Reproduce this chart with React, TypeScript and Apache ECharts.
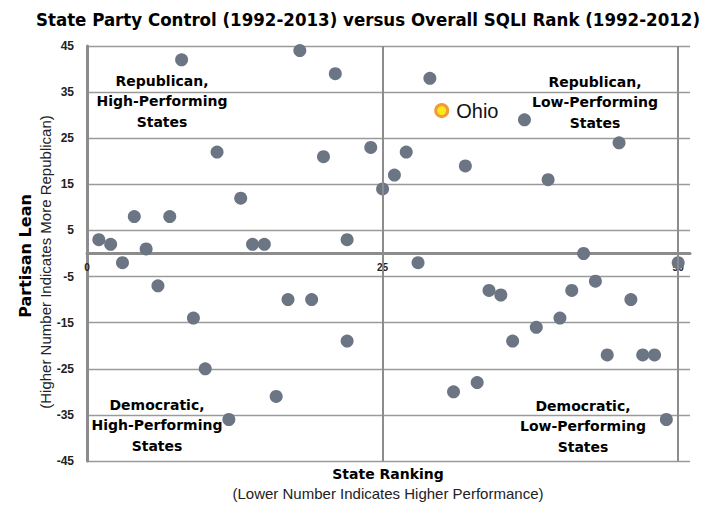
import React, { useEffect, useRef } from "react";
import * as echarts from "echarts";

const ranks = [1, 2, 3, 4, 5, 6, 7, 8, 9, 10, 11, 12, 13, 14, 15, 16, 17, 18, 19, 20, 21, 22, 22, 24, 25, 26, 27, 28, 29, 31, 32, 33, 34, 35, 36, 37, 38, 39, 40, 41, 42, 43, 44, 45, 46, 47, 48, 49, 50];
const leans = [3, 2, -2, 8, 1, -7, 8, 42, -14, -25, 22, -36, 12, 2, 2, -31, -10, 44, -10, 21, 39, 3, -19, 23, 14, 17, 22, -2, 38, -30, 19, -28, -8, -9, -19, 29, -16, 16, -14, -8, 0, -6, -22, 24, -10, -22, -22, -36, -2];
const ohioRank = 30;
const ohioLean = 31;
const yTicks = [-45, 45, 10];
const xTicks = [0, 51, 25];
const dividers = [25, 50];

const quadrants = [
  { text: "Republican,\nHigh-Performing\nStates", x: 162, y: 101 },
  { text: "Republican,\nLow-Performing\nStates", x: 595, y: 102 },
  { text: "Democratic,\nHigh-Performing\nStates", x: 157, y: 425 },
  { text: "Democratic,\nLow-Performing\nStates", x: 583, y: 426 },
];

const GRID_TOP = 46;
const GRID_BOTTOM = 52;
const HEIGHT = 513;

export default function App() {
  const ref = useRef<HTMLDivElement>(null);
  useEffect(() => {
    if (!ref.current) return;
    const chart = echarts.init(ref.current, null, { renderer: "svg" });
    const pts = ranks.map((r, i) => [r, leans[i]]);
    const axisGray = "#8c8c8c";
    const plotH = HEIGHT - GRID_TOP - GRID_BOTTOM;
    const zeroFromBottom = (plotH * (0 - yTicks[0])) / (yTicks[1] - yTicks[0]);
    chart.setOption({
      animation: false,
      backgroundColor: "#ffffff",
      grid: { left: 87, top: GRID_TOP, right: 16, bottom: GRID_BOTTOM, containLabel: false },
      xAxis: {
        type: "value",
        min: xTicks[0],
        max: xTicks[1],
        interval: xTicks[2],
        position: "bottom",
        offset: -zeroFromBottom,
        axisLine: { show: true, onZero: false, lineStyle: { color: axisGray, width: 3 } },
        axisTick: { show: false },
        splitLine: { show: false },
        axisLabel: {
          margin: 9,
          fontSize: 10,
          fontWeight: "bold",
          fontFamily: "Liberation Sans",
          color: "#222",
          formatter: (v: number) => (v % 25 === 0 ? String(v) : ""),
        },
      },
      yAxis: {
        type: "value",
        min: yTicks[0],
        max: yTicks[1],
        interval: yTicks[2],
        axisLine: { show: true, onZero: false, lineStyle: { color: axisGray, width: 3 } },
        axisTick: { show: false },
        splitLine: { show: true, lineStyle: { color: "#9a9a9a", width: 1.3 } },
        axisLabel: {
          margin: 13,
          fontSize: 12,
          fontWeight: "bold",
          fontFamily: "Liberation Sans",
          color: "#222",
        },
      },
      series: [
        {
          type: "scatter",
          data: pts,
          symbolSize: 13,
          itemStyle: { color: "#6b7584", opacity: 1 },
          markLine: {
            silent: true,
            symbol: ["none", "none"],
            label: { show: false },
            lineStyle: { color: axisGray, width: 2, type: "solid" },
            data: dividers.map((d) => ({ xAxis: d })),
          },
          z: 3,
        },
        {
          type: "scatter",
          data: [[ohioRank, ohioLean]],
          symbolSize: 12,
          itemStyle: { color: "#ffe81a", borderColor: "#f39a3a", borderWidth: 3, opacity: 1 },
          label: {
            show: true,
            position: "right",
            distance: 7,
            formatter: "Ohio",
            fontSize: 20,
            fontFamily: "Liberation Sans",
            color: "#111",
          },
          z: 4,
        },
      ],
      graphic: [
        {
          type: "text",
          x: 368,
          y: 19,
          style: {
            text: "State Party Control (1992-2013) versus Overall SQLI Rank (1992-2012)",
            fontFamily: "DejaVu Sans Condensed",
            fontWeight: "bold",
            fontSize: 18.5,
            fill: "#000",
            align: "center",
            verticalAlign: "middle",
          },
        },
        ...quadrants.map((q) => ({
          type: "text",
          x: q.x,
          y: q.y,
          style: {
            text: q.text,
            fontFamily: "DejaVu Sans",
            fontWeight: "bold",
            fontSize: 14,
            lineHeight: 20.5,
            fill: "#000",
            align: "center",
            verticalAlign: "middle",
          },
        })),
        {
          type: "text",
          x: 388,
          y: 474,
          style: {
            text: "State Ranking",
            fontFamily: "DejaVu Sans",
            fontWeight: "bold",
            fontSize: 14,
            fill: "#000",
            align: "center",
            verticalAlign: "middle",
          },
        },
        {
          type: "text",
          x: 388,
          y: 493,
          style: {
            text: "(Lower Number Indicates Higher Performance)",
            fontFamily: "Liberation Sans",
            fontSize: 15,
            fill: "#222",
            align: "center",
            verticalAlign: "middle",
          },
        },
        {
          type: "text",
          x: 25,
          y: 256,
          rotation: Math.PI / 2,
          style: {
            text: "Partisan Lean",
            fontFamily: "DejaVu Sans",
            fontWeight: "bold",
            fontSize: 16,
            fill: "#000",
            align: "center",
            verticalAlign: "middle",
          },
        },
        {
          type: "text",
          x: 45,
          y: 262,
          rotation: Math.PI / 2,
          style: {
            text: "(Higher Number Indicates More Republican)",
            fontFamily: "Liberation Sans",
            fontSize: 15,
            fill: "#222",
            align: "center",
            verticalAlign: "middle",
          },
        },
      ],
    });
    return () => chart.dispose();
  }, []);
  return <div ref={ref} style={{ width: 706, height: 513, position: "absolute", left: 0, top: 0 }} />;
}
